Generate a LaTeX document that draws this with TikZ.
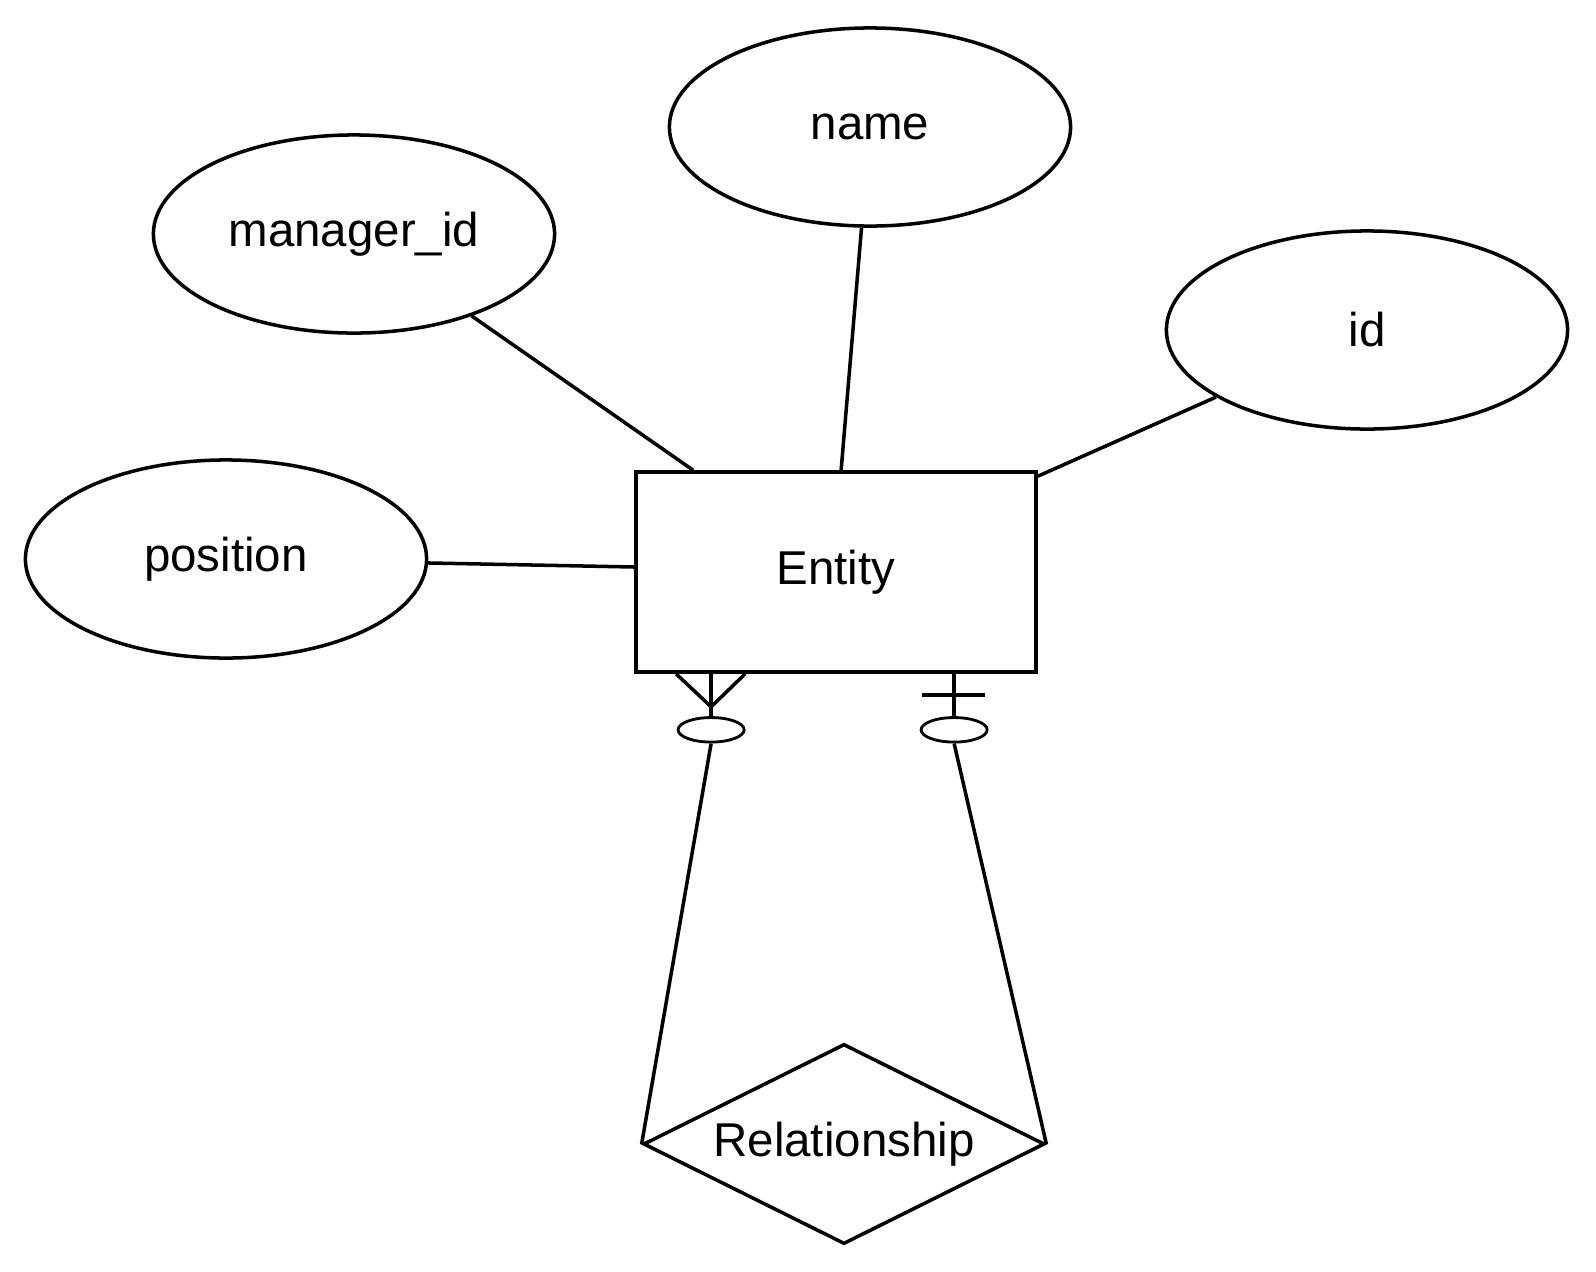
\documentclass[tikz,border=0pt]{standalone}
\usepackage{fontspec}
\setmainfont{Liberation Sans}
\usetikzlibrary{shapes.geometric,calc}
\newcommand{\erfont}{\fontsize{13.5}{16}\selectfont}
\tikzset{
  link/.style={line width=1pt, draw=black},
  attr/.style={ellipse, draw, line width=1pt, minimum width=4.01cm, minimum height=1.98cm,
    inner sep=0pt, font=\erfont},
  entitybox/.style={rectangle, draw, line width=1pt, minimum width=4cm, minimum height=2cm,
    inner sep=0pt, font=\erfont},
  relbox/.style={diamond, draw, line width=1pt, minimum width=4.01cm, minimum height=2cm,
    aspect=2, inner sep=0pt, font=\erfont},
  optmark/.style={ellipse, draw, line width=0.8pt, minimum width=0.66cm, minimum height=0.245cm,
    inner sep=0pt}
}

\begin{document}
\begin{tikzpicture}[x=0.01cm, y=-0.01cm]
  \useasboundingbox (0,0) rectangle (1596,1272);

  % Entity and its attributes.
  \node[entitybox] (ent) at (836,572) {Entity};
  \node[attr] (name) at (870,127) {name};
  \node[attr] (mgr) at (354,234) {manager\_id};
  \node[attr] (id) at (1367,330) {id};
  \node[attr] (pos) at (226,559) {position};

  % Relationship.
  \node[relbox] (rel) at (844,1144) {Relationship};

  % Attribute links.
  \draw[link] (mgr) -- ($(ent.north west)+(59,0)$);
  \draw[link] (name) -- ($(ent.north west)+(207,0)$);
  \draw[link] (id) -- ($(ent.north east)+(0,6)$);
  \draw[link] (pos) -- ($(ent.west)+(0,-5)$);

  % Zero-or-many end.
  \coordinate (cL) at ($(ent.south west)+(77,0)$);
  \node[optmark] (optL) at ($(cL)+(0,56)$) {};
  \draw[link] (cL) -- (optL.north);
  \draw[link] ($(cL)+(-35,0)$) -- ($(cL)+(0,33)$) -- ($(cL)+(34,0)$);
  \draw[link] (optL.south) -- (rel.west);

  % Zero-or-one end.
  \coordinate (cR) at ($(ent.south west)+(320,0)$);
  \node[optmark] (optR) at ($(cR)+(0,56)$) {};
  \draw[link] (cR) -- (optR.north);
  \draw[link] ($(cR)+(-32,21)$) -- ($(cR)+(31,21)$);
  \draw[link] (optR.south) -- (rel.east);
\end{tikzpicture}
\end{document}
